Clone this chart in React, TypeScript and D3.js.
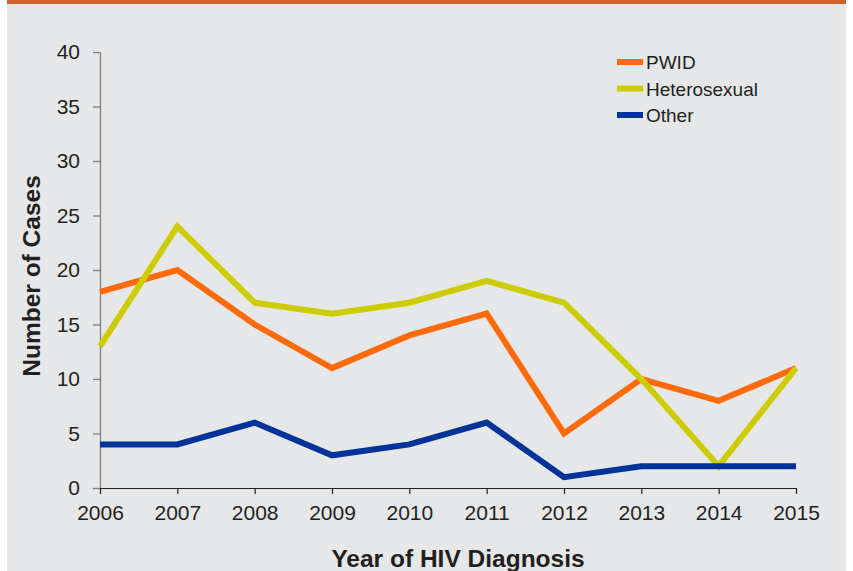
import { useEffect, useRef } from 'react'
import * as d3 from 'd3'

const YEARS = [2006, 2007, 2008, 2009, 2010, 2011, 2012, 2013, 2014, 2015]
const PWID = [18, 20, 15, 11, 14, 16, 5, 10, 8, 11]
const HETERO = [13, 24, 17, 16, 17, 19, 17, 10, 2, 11]
const OTHER = [4, 4, 6, 3, 4, 6, 1, 2, 2, 2]
const Y_TICKS = [0, 5, 10, 15, 20, 25, 30, 35, 40]

const SERIES = [
  { name: 'PWID', values: PWID, color: '#ff6a0b' },
  { name: 'Heterosexual', values: HETERO, color: '#cccc00' },
  { name: 'Other', values: OTHER, color: '#003399' },
]

const W = 853
const H = 571
const FONT = '"Liberation Sans", Arial, sans-serif'

export default function App() {
  const svgRef = useRef<SVGSVGElement>(null)

  useEffect(() => {
    const svg = d3.select(svgRef.current)
    svg.selectAll('*').remove()

    // panel background + top bar
    svg.append('rect').attr('x', 0).attr('y', 0).attr('width', W).attr('height', H).attr('fill', '#ffffff')
    svg.append('rect').attr('x', 7).attr('y', 0).attr('width', 839).attr('height', H).attr('fill', '#e6e7e8')
    svg.append('rect').attr('x', 7).attr('y', 0).attr('width', 839).attr('height', 4).attr('fill', '#cd622b')

    const x = d3.scaleLinear([YEARS[0], YEARS[YEARS.length - 1]], [100, 796])
    const y = d3.scaleLinear([0, 40], [488, 52])

    // y axis
    svg.append('g')
      .attr('transform', 'translate(100,0)')
      .call(d3.axisLeft(y).tickValues(Y_TICKS).tickSize(7).tickSizeOuter(0).tickPadding(13))
      .call(ag => ag.select('.domain').attr('stroke', '#7f7f7f').attr('stroke-width', 1.3))
      .call(ag => ag.selectAll('.tick line').attr('stroke', '#7f7f7f').attr('stroke-width', 1.3))
      .call(ag => ag.selectAll('text').attr('fill', '#231f20').attr('font-size', 21).attr('font-family', FONT))

    // x axis
    svg.append('g')
      .attr('transform', 'translate(0,488)')
      .call(d3.axisBottom(x).tickValues(YEARS).tickFormat(d3.format('d')).tickSize(6).tickSizeOuter(0).tickPadding(11))
      .call(ag => ag.select('.domain').attr('stroke', '#231f20').attr('stroke-width', 1.2))
      .call(ag => ag.selectAll('.tick line').attr('stroke', '#231f20').attr('stroke-width', 1.2))
      .call(ag => ag.selectAll('text').attr('fill', '#231f20').attr('font-size', 21).attr('font-family', FONT))

    // axis titles
    svg.append('text')
      .attr('transform', 'translate(40,276) rotate(-90)')
      .attr('text-anchor', 'middle').attr('font-family', FONT).attr('font-weight', 'bold')
      .attr('font-size', 24.5).attr('fill', '#231f20')
      .text('Number of Cases')

    svg.append('text')
      .attr('x', 458).attr('y', 567)
      .attr('text-anchor', 'middle').attr('font-family', FONT).attr('font-weight', 'bold')
      .attr('font-size', 24.5).attr('fill', '#231f20')
      .text('Year of HIV Diagnosis')

    // lines
    const line = d3.line<number>()
      .x((_, i) => x(YEARS[i]))
      .y(d => y(d))

    SERIES.forEach(s => {
      svg.append('path')
        .datum(s.values)
        .attr('d', line)
        .attr('fill', 'none')
        .attr('stroke', s.color)
        .attr('stroke-width', 6)
        .attr('stroke-linejoin', 'miter')
    })

    // legend
    const lg = svg.append('g').attr('transform', 'translate(617,62)')
    SERIES.forEach((s, i) => {
      lg.append('line')
        .attr('x1', 0).attr('x2', 26).attr('y1', i * 26.5).attr('y2', i * 26.5)
        .attr('stroke', s.color).attr('stroke-width', 6)
      lg.append('text')
        .attr('x', 29).attr('y', i * 26.5 + 7)
        .attr('font-family', FONT).attr('font-size', 19).attr('fill', '#231f20')
        .text(s.name)
    })
  }, [])

  return (
    <div style={{ position: 'fixed', left: 0, top: 0 }}>
      <svg ref={svgRef} width={W} height={H} style={{ display: 'block' }} />
    </div>
  )
}
